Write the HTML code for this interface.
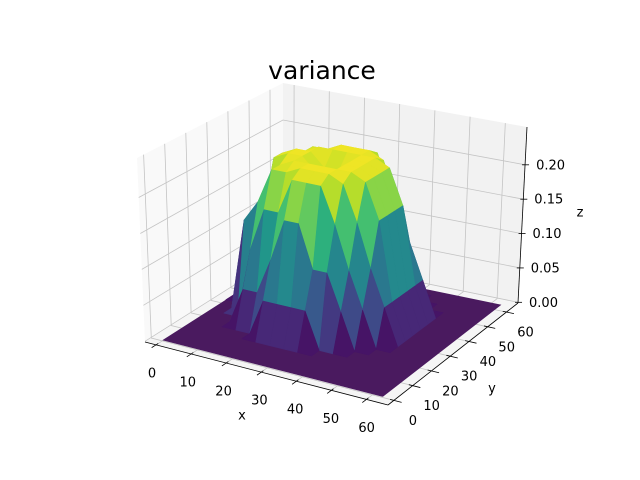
<!DOCTYPE html>
<html><head><meta charset="utf-8"><style>
html,body{margin:0;padding:0;background:#fff;}
svg{display:block;font-family:"DejaVu Sans","Liberation Sans",sans-serif;}
</style></head><body>
<svg id="chart" width="640" height="480" viewBox="0 0 640 480">
<rect width="640" height="480" fill="#fff"/>
<text x="322" y="79" font-size="25" text-anchor="middle" fill="#000">variance</text>
<g id="panes"></g>
<g id="surface"></g>
<g id="axes"></g>
</svg>
<script>
// data
const xTicks = [0,10,20,30,40,50,60];
const yTicks = [0,10,20,30,40,50,60];
const zTicks = [0.00,0.05,0.10,0.15,0.20];
const zTickLabels = ["0.00","0.05","0.10","0.15","0.20"];
const gridX = [0,4,8,12,16,20,24,28,32,36,40,44,48,52,56,60,63];
const gridY = [0,4,8,12,16,20,24,28,32,36,40,44,48,52,56,60,63];
const zRow0  = [0,0,0,0,0,0,0,0,0,0,0,0,0,0,0,0,0];
const zRow1  = [0,0,0,0,0,0,0,0,0,0,0,0,0,0,0,0,0];
const zRow2  = [0,0,0,0,0,0,0,0,0,0,0,0,0,0,0,0,0];
const zRow3  = [0,0,0,0,0,0,0,0,0,0,0,0,0,0,0,0,0];
const zRow4  = [0,0,0,0,0,0.05,0.05,0.05,0.05,0,0,0,0,0,0,0,0];
const zRow5  = [0,0,0,0.05,0.05,0.10,0.16,0.16,0.10,0.10,0.05,0,0,0,0,0,0];
const zRow6  = [0,0,0,0.10,0.16,0.16,0.21,0.21,0.21,0.16,0.10,0.05,0,0,0,0,0];
const zRow7  = [0,0,0.13,0.16,0.21,0.21,0.22,0.22,0.22,0.21,0.16,0.10,0.05,0,0,0,0];
const zRow8  = [0,0,0.10,0.16,0.21,0.22,0.22,0.22,0.22,0.22,0.21,0.16,0.05,0,0,0,0];
const zRow9  = [0,0.05,0.10,0.21,0.22,0.22,0.20,0.20,0.22,0.22,0.21,0.16,0.05,0,0,0,0];
const zRow10 = [0,0.05,0.10,0.21,0.22,0.22,0.20,0.20,0.22,0.22,0.21,0.16,0.05,0,0,0,0];
const zRow11 = [0,0,0.10,0.16,0.21,0.22,0.22,0.22,0.22,0.22,0.21,0.16,0.05,0,0,0,0];
const zRow12 = [0,0,0.05,0.16,0.21,0.21,0.22,0.22,0.22,0.21,0.16,0.10,0.05,0,0,0,0];
const zRow13 = [0,0,0,0.10,0.16,0.16,0.21,0.21,0.21,0.16,0.10,0.05,0,0,0,0,0];
const zRow14 = [0,0,0,0.05,0.05,0.10,0.16,0.16,0.10,0.10,0.05,0,0,0,0,0,0];
const zRow15 = [0,0,0,0,0,0.05,0.05,0.05,0.05,0,0,0,0,0,0,0,0];
const zRow16 = [0,0,0,0,0,0,0,0,0,0,0,0,0,0,0,0,0];
const zRows = [zRow0,zRow1,zRow2,zRow3,zRow4,zRow5,zRow6,zRow7,zRow8,zRow9,zRow10,zRow11,zRow12,zRow13,zRow14,zRow15,zRow16];

const NS="http://www.w3.org/2000/svg";
const xlo=-3.15,xhi=66.15,ylo=-3.15,yhi=66.15,zlo=-0.001,zhi=0.255;
const BL=[145,342],BF=[388,405],BR=[518,303],BB=[283,255];
const TL=[137,158],TF=[390,212],TR=[527,127],TB=[283,83];
function bil(a,b,c,d,u,v){
  return [(1-u)*(1-v)*a[0]+u*(1-v)*b[0]+u*v*c[0]+(1-u)*v*d[0],
          (1-u)*(1-v)*a[1]+u*(1-v)*b[1]+u*v*c[1]+(1-u)*v*d[1]];
}
function P(x,y,z){
  const u=(x-xlo)/(xhi-xlo), v=(y-ylo)/(yhi-ylo), w=(z-zlo)/(zhi-zlo);
  const b=bil(BL,BF,BR,BB,u,v), t=bil(TL,TF,TR,TB,u,v);
  return [b[0]+(t[0]-b[0])*w, b[1]+(t[1]-b[1])*w];
}
function mk(tag,attrs,parent){const e=document.createElementNS(NS,tag);for(const k in attrs)e.setAttribute(k,attrs[k]);parent.appendChild(e);return e;}
function pts(a){return a.map(p=>p[0].toFixed(1)+","+p[1].toFixed(1)).join(" ");}
const vir=["#440154","#482475","#414487","#355f8d","#2a788e","#21918c","#22a884","#44bf70","#7ad151","#bddf26","#fde725"];
function hx(c){return [parseInt(c.substr(1,2),16),parseInt(c.substr(3,2),16),parseInt(c.substr(5,2),16)];}
function cmap(t){t=Math.max(0,Math.min(1,t));const f=t*10,i=Math.min(9,Math.floor(f)),r=f-i;const a=hx(vir[i]),b=hx(vir[i+1]);
  return "rgb("+a.map((v,k)=>Math.round(v+(b[k]-v)*r)).join(",")+")";}

const panes=document.getElementById('panes');
let e=mk('polygon',{points:pts([P(xlo,ylo,zlo),P(xlo,yhi,zlo),P(xlo,yhi,zhi),P(xlo,ylo,zhi)]),fill:'#f9f9f9'},panes);


e=mk('polygon',{points:pts([P(xlo,yhi,zlo),P(xhi,yhi,zlo),P(xhi,yhi,zhi),P(xlo,yhi,zhi)]),fill:'#f2f2f2'},panes);


e=mk('polygon',{points:pts([P(xlo,ylo,zlo),P(xhi,ylo,zlo),P(xhi,yhi,zlo),P(xlo,yhi,zlo)]),fill:'#f5f5f5'},panes);


const gs={stroke:'#c4c4c4','stroke-width':0.8,fill:'none'};
xTicks.forEach(x=>{
  let l=mk('polyline',Object.assign({points:pts([P(x,ylo,zlo),P(x,yhi,zlo),P(x,yhi,zhi)])},gs),panes);
  
  
});
yTicks.forEach(y=>{
  let l=mk('polyline',Object.assign({points:pts([P(xhi,y,zlo),P(xlo,y,zlo),P(xlo,y,zhi)])},gs),panes);
  
  
});
zTicks.forEach(z=>{
  let l=mk('polyline',Object.assign({points:pts([P(xlo,ylo,z),P(xlo,yhi,z),P(xhi,yhi,z)])},gs),panes);
  
  
});

const surf=document.getElementById('surface');
const x0=gridX[0],x1=gridX[gridX.length-1],y0=gridY[0],y1=gridY[gridY.length-1];
e=mk('polygon',{points:pts([P(x0,y0,0),P(x1,y0,0),P(x1,y1,0),P(x0,y1,0)]),fill:'#4a1a5f'},surf);


const quads=[];
for(let j=0;j<gridY.length-1;j++)for(let i=0;i<gridX.length-1;i++){
  const z00=zRows[j][i],z10=zRows[j][i+1],z11=zRows[j+1][i+1],z01=zRows[j+1][i];
  if(z00+z10+z11+z01===0)continue;
  const cx=(gridX[i]+gridX[i+1])/2, cy=(gridY[j]+gridY[j+1])/2;
  quads.push({i,j,z00,z10,z11,z01,d:0.5*cx-0.866*cy});
}
quads.sort((a,b)=>a.d-b.d);
const zmaxData=0.225;
quads.forEach(q=>{
  const {i,j}=q;
  const c=cmap(((q.z00+q.z10+q.z11+q.z01)/4)/zmaxData);
  const p=mk('polygon',{points:pts([P(gridX[i],gridY[j],q.z00),P(gridX[i+1],gridY[j],q.z10),P(gridX[i+1],gridY[j+1],q.z11),P(gridX[i],gridY[j+1],q.z01)]),fill:c,stroke:c,'stroke-width':0.6,'stroke-linejoin':'round'},surf);
  
  
});

const ax=document.getElementById('axes');
function line(a,b,name){const l=mk('line',{x1:a[0],y1:a[1],x2:b[0],y2:b[1],stroke:'#000','stroke-width':0.8},ax);
  
  }
function text(s,p,name,anchor){const t=mk('text',{x:p[0],y:p[1],'font-size':13,'text-anchor':anchor||'middle','dominant-baseline':'central',fill:'#000'},ax);t.textContent=s;
  
  }
line(P(xlo,ylo,zlo),P(xhi,ylo,zlo),'x-axis-line');
line(P(xhi,ylo,zlo),P(xhi,yhi,zlo),'y-axis-line');
line(P(xhi,yhi,zlo),P(xhi,yhi,zhi),'z-axis-line');
xTicks.forEach(x=>{const a=P(x,ylo,zlo),b=P(x,ylo-2.2,zlo);line([a[0]-(b[0]-a[0])*0.5,a[1]-(b[1]-a[1])*0.5],b,'x-tick');
  text(String(x),[a[0]-4+x*0.07,a[1]+29],'x-tick-label');});
yTicks.forEach(y=>{const a=P(xhi,y,zlo),b=P(xhi+2.2,y,zlo);line([a[0]-(b[0]-a[0])*0.5,a[1]-(b[1]-a[1])*0.5],b,'y-tick');
  text(String(y),[a[0]+19,a[1]+21],'y-tick-label');});
zTicks.forEach((z,k)=>{const a=P(xhi,yhi,z);line([a[0]-3,a[1]],[a[0]+4,a[1]],'z-tick');
  text(zTickLabels[k],[a[0]+11,a[1]+1],'z-tick-label','start');});
text('x',[242,416],'x-axis-title');
text('y',[492,389],'y-axis-title');
text('z',[580,213],'z-axis-title');
</script>
</body></html>
